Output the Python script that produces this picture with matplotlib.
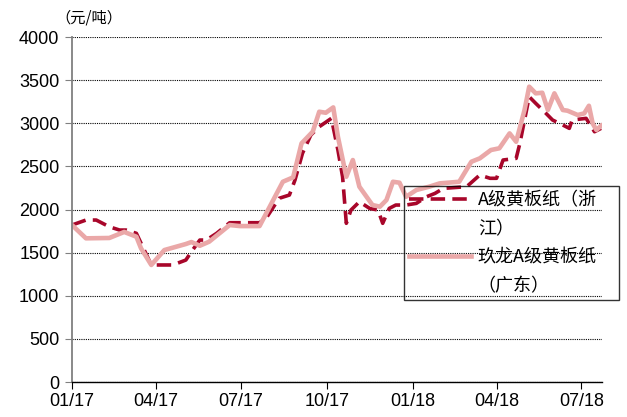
import pandas as pd
import matplotlib
matplotlib.use("Agg")
import matplotlib.pyplot as plt
import matplotlib.dates as mdates
from matplotlib.lines import Line2D

plt.rcParams['font.family'] = ['Liberation Sans', 'Noto Sans CJK SC', 'DejaVu Sans']

# A级黄板纸（浙江）
zj_dates = ['2017-01-01', '2017-01-16', '2017-01-27', '2017-02-10', '2017-02-21', '2017-02-28',
            '2017-03-11', '2017-03-27', '2017-04-19', '2017-05-03', '2017-05-09', '2017-05-18',
            '2017-05-25', '2017-06-05', '2017-06-19', '2017-07-21', '2017-07-28', '2017-08-11',
            '2017-08-22', '2017-08-28', '2017-09-05', '2017-09-14', '2017-09-23', '2017-10-06',
            '2017-10-13', '2017-10-18', '2017-10-22', '2017-10-27', '2017-11-05', '2017-11-16',
            '2017-11-25', '2017-11-30', '2017-12-07', '2017-12-14', '2017-12-25', '2018-01-05',
            '2018-01-16', '2018-01-25', '2018-02-03', '2018-02-28', '2018-03-14', '2018-03-25',
            '2018-04-01', '2018-04-08', '2018-04-22', '2018-04-26', '2018-05-06', '2018-05-13',
            '2018-05-24', '2018-05-31', '2018-06-11', '2018-06-18', '2018-06-21', '2018-07-06',
            '2018-07-15', '2018-07-22']
zj_vals = [1820, 1878, 1878, 1800, 1762, 1762,
           1724, 1357, 1357, 1414, 1511, 1646,
           1646, 1724, 1847, 1847, 1898, 2130,
           2168, 2342, 2651, 2864, 2960, 3057,
           2690, 2380, 1840, 1994, 2090, 2013,
           1994, 1840, 2013, 2052, 2052, 2071,
           2148, 2187, 2245, 2265, 2400, 2362,
           2362, 2574, 2593, 2767, 3308, 3231,
           3115, 3038, 2980, 2941, 3038, 3057,
           2902, 2941]

# 玖龙A级黄板纸（广东）
gd_dates = ['2017-01-01', '2017-01-16', '2017-02-10', '2017-02-26', '2017-03-11', '2017-03-16',
            '2017-03-27', '2017-04-10', '2017-05-03', '2017-05-09', '2017-05-18', '2017-05-28',
            '2017-06-19', '2017-06-30', '2017-07-21', '2017-08-15', '2017-08-26', '2017-09-04',
            '2017-09-16', '2017-09-23', '2017-09-30', '2017-10-08', '2017-10-13', '2017-10-22',
            '2017-10-29', '2017-11-05', '2017-11-19', '2017-11-27', '2017-12-04', '2017-12-11',
            '2017-12-18', '2017-12-25', '2018-01-05', '2018-01-19', '2018-01-30', '2018-02-20',
            '2018-03-05', '2018-03-14', '2018-03-26', '2018-04-04', '2018-04-15', '2018-04-22',
            '2018-05-01', '2018-05-06', '2018-05-13', '2018-05-20', '2018-05-26', '2018-06-02',
            '2018-06-11', '2018-06-16', '2018-06-27', '2018-07-04', '2018-07-09', '2018-07-13',
            '2018-07-17', '2018-07-23']
gd_vals = [1820, 1666, 1670, 1740, 1685, 1550,
           1357, 1530, 1600, 1623, 1580, 1627,
           1820, 1808, 1808, 2322, 2373, 2767,
           2902, 3134, 3122, 3184, 2844, 2380,
           2574, 2265, 2052, 2033, 2110, 2322,
           2311, 2148, 2226, 2265, 2303, 2322,
           2554, 2593, 2690, 2710, 2883, 2786,
           3154, 3424, 3347, 3354, 3154, 3347,
           3154, 3146, 3096, 3115, 3203, 2999,
           2922, 2980]

zj_x = pd.to_datetime(zj_dates)
gd_x = pd.to_datetime(gd_dates)

dark = '#A8062A'
pink = '#EAA8A8'
dash = (0, (4, 2))

fig = plt.figure(figsize=(6.27, 4.17), dpi=100)
ax = fig.add_axes([0.1148, 0.0839, 0.8453, 0.8273])

ax.plot(zj_x, zj_vals, color=dark, lw=2.6, linestyle=dash, dash_joinstyle='round')
ax.plot(gd_x, gd_vals, color=pink, lw=3.3, solid_joinstyle='round', solid_capstyle='round')

ax.set_ylim(0, 4000)
ax.set_yticks(range(0, 4001, 500))
ax.set_xlim(pd.Timestamp('2017-01-01'), pd.Timestamp('2018-07-23'))
ax.xaxis.set_major_locator(mdates.MonthLocator(bymonth=[1, 4, 7, 10]))
ax.xaxis.set_major_formatter(mdates.DateFormatter('%m/%y'))

ax.grid(axis='y', color='black', linestyle=(0, (1, 1)), linewidth=0.8)
ax.set_axisbelow(True)
for s in ['top', 'right']:
    ax.spines[s].set_visible(False)
ax.spines['left'].set_color('#808080')
ax.spines['left'].set_linewidth(1.3)
ax.spines['bottom'].set_color('black')
ax.spines['bottom'].set_linewidth(1.0)
ax.tick_params(axis='y', direction='out', length=5, color='#808080', labelsize=13, pad=4)
ax.tick_params(axis='x', direction='out', length=5, color='black', labelsize=13, pad=3)

fig.text(0.141, 0.957, '（元/吨）', fontsize=11, ha='center', va='center',
         family=['Noto Sans CJK SC', 'DejaVu Sans'])

handles = [Line2D([], [], color=dark, lw=2.6, linestyle=dash),
           Line2D([], [], color='none'),
           Line2D([], [], color=pink, lw=3.3),
           Line2D([], [], color='none')]
labels = ['A级黄板纸（浙', '江）', '玖龙A级黄板纸', '（广东）']
leg = fig.legend(handles, labels, loc='upper left',
                 bbox_to_anchor=(0.644, 0.281, 0.343, 0.273), mode='expand',
                 prop={'family': ['Noto Sans CJK SC', 'DejaVu Sans'], 'size': 13},
                 frameon=True, fancybox=False, borderaxespad=0, borderpad=0.3,
                 handlelength=3.4, handletextpad=0.4, labelspacing=0.58)
leg.get_frame().set_facecolor('none')
leg.get_frame().set_edgecolor('black')
leg.get_frame().set_linewidth(1.0)

fig.savefig('out.png', dpi=100)
